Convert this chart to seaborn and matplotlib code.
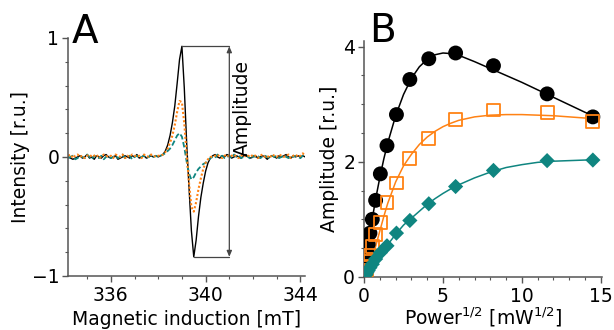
import numpy as np
import pandas as pd
import matplotlib
matplotlib.use("Agg")
import matplotlib.pyplot as plt
from matplotlib.ticker import MultipleLocator
import seaborn as sns

# ---------------- Panel A: EPR spectra (field step 0.1 mT, 334.2 - 344.2 mT)
field_start, field_step = 334.2, 0.1

black_spec = [
    0.00, -0.01, -0.02, -0.01, 0.00, 0.01, -0.01, 0.00, 0.02, -0.01,
    0.00, -0.02, 0.01, 0.00, -0.01, 0.01, 0.02, 0.00, -0.01, 0.00,
    0.01, -0.02, -0.01, 0.00, 0.01, 0.00, -0.01, 0.01, 0.00, 0.02,
    -0.01, 0.00, 0.01, -0.01, 0.00, 0.01, 0.00, 0.01,
    # signal 338.0 - 340.2
    0.00, 0.01, 0.02, 0.05, 0.10, 0.18, 0.29, 0.43, 0.62, 0.82,
    0.93, 0.58, 0.12, -0.26, -0.62, -0.84, -0.70, -0.50, -0.34, -0.22,
    -0.12, -0.05, -0.01,
    # 340.3 - 344.2
    0.01, 0.02, 0.00, -0.01, 0.01, 0.00, 0.02, 0.01, -0.01, 0.00,
    0.01, 0.00, -0.01, 0.01, 0.02, 0.00, -0.01, 0.00, 0.01, -0.01,
    0.00, 0.01, 0.00, -0.02, 0.00, 0.01, 0.00, -0.01, 0.01, 0.00,
    0.01, 0.02, 0.00, -0.01, 0.01, 0.00, 0.01, 0.00, 0.01, 0.00,
]
orange_spec = [
    0.01, 0.02, -0.01, 0.01, 0.02, 0.00, 0.01, -0.01, 0.01, 0.02,
    0.00, 0.01, 0.02, -0.01, 0.00, 0.02, 0.01, 0.00, 0.01, -0.01,
    0.02, 0.01, 0.00, 0.02, -0.01, 0.01, 0.00, 0.02, 0.01, 0.00,
    0.01, -0.01, 0.02, 0.01, 0.00, 0.02, 0.01, 0.00,
    0.01, 0.01, 0.02, 0.04, 0.07, 0.12, 0.18, 0.27, 0.38, 0.47,
    0.46, 0.28, 0.02, -0.22, -0.42, -0.46, -0.38, -0.27, -0.18, -0.10,
    -0.05, -0.02, 0.00,
    0.00, 0.01, 0.02, 0.00, -0.01, 0.01, 0.02, 0.00, 0.01, 0.02,
    0.00, -0.01, 0.01, 0.02, 0.00, 0.01, 0.00, 0.02, 0.01, -0.01,
    0.01, 0.02, 0.00, 0.01, -0.01, 0.02, 0.01, 0.00, 0.02, 0.01,
    0.00, 0.01, 0.02, -0.01, 0.01, 0.02, 0.00, 0.01, 0.03, 0.01,
]
teal_spec = [
    -0.01, 0.00, 0.01, -0.02, -0.01, 0.01, 0.00, -0.01, 0.02, 0.00,
    -0.02, 0.01, 0.00, -0.01, 0.01, -0.02, 0.00, 0.01, -0.01, 0.00,
    0.01, -0.01, 0.00, 0.02, -0.01, 0.00, 0.01, -0.02, 0.00, 0.01,
    -0.01, 0.00, 0.01, -0.01, 0.00, 0.02, 0.00, 0.01,
    0.00, 0.01, 0.02, 0.03, 0.05, 0.07, 0.10, 0.14, 0.18, 0.20,
    0.17, 0.08, -0.04, -0.14, -0.19, -0.17, -0.13, -0.10, -0.08, -0.06,
    -0.05, -0.03, -0.01,
    0.00, -0.01, 0.02, 0.00, 0.01, -0.01, 0.00, 0.01, -0.01, 0.02,
    0.00, 0.01, -0.01, 0.00, 0.01, 0.00, -0.02, 0.01, 0.00, 0.01,
    -0.01, 0.00, 0.01, 0.00, -0.01, 0.01, 0.00, 0.01, -0.01, 0.00,
    0.01, 0.00, -0.01, 0.01, 0.00, 0.01, 0.00, -0.01, 0.01, 0.00,
]
amp_peak = (339.0, 0.93)
amp_trough = (339.5, -0.84)
amp_x = 341.0

# ---------------- Panel B: saturation curves
power_sqrt = [14.5, 11.6, 8.2, 5.8, 4.1, 2.9, 2.05, 1.45, 1.03, 0.73, 0.52, 0.37, 0.26, 0.18, 0.13, 0.09]
amp_black = [2.78, 3.18, 3.67, 3.89, 3.79, 3.43, 2.82, 2.28, 1.79, 1.33, 1.00, 0.76, 0.57, 0.42, 0.30, 0.20]
amp_orange = [2.70, 2.86, 2.90, 2.73, 2.40, 2.05, 1.63, 1.29, 0.94, 0.74, 0.53, 0.38, 0.27, 0.19, 0.12, 0.08]
amp_teal = [2.03, 2.02, 1.85, 1.57, 1.27, 0.98, 0.76, 0.54, 0.42, 0.31, 0.22, 0.16, 0.11, 0.08, 0.05, 0.03]

fit_x = [0, 0.1, 0.2, 0.3, 0.5, 0.75, 1, 1.25, 1.5, 2, 2.5, 3, 3.5, 4, 4.5, 5, 5.5, 6, 7, 8, 9, 10, 11, 12, 13, 14, 14.5]
fit_black = [0, 0.2, 0.4, 0.6, 0.98, 1.38, 1.73, 2.05, 2.33, 2.8, 3.17, 3.45, 3.65, 3.78, 3.86, 3.89, 3.88, 3.85,
             3.74, 3.62, 3.5, 3.38, 3.25, 3.12, 2.99, 2.86, 2.8]
fit_orange = [0, 0.02, 0.06, 0.12, 0.3, 0.55, 0.8, 1.05, 1.28, 1.65, 1.93, 2.13, 2.3, 2.43, 2.53, 2.61, 2.67, 2.72,
              2.78, 2.81, 2.82, 2.82, 2.81, 2.8, 2.78, 2.76, 2.75]
fit_teal = [0, 0.03, 0.06, 0.1, 0.18, 0.28, 0.38, 0.47, 0.56, 0.74, 0.9, 1.02, 1.14, 1.26, 1.36, 1.45, 1.53, 1.6,
            1.72, 1.82, 1.9, 1.95, 1.99, 2.01, 2.02, 2.03, 2.03]

BLACK, ORANGE, TEAL = "black", "#ff8214", "#0f8580"
SPINE = "#555555"
FS = 13.5

sns.set_style("ticks")
plt.rcParams["font.family"] = ["DejaVu Sans"]
plt.rcParams.update({
    "text.color": "black", "axes.labelcolor": "black",
    "axes.edgecolor": SPINE, "axes.linewidth": 1.1,
    "xtick.color": SPINE, "ytick.color": SPINE,
    "xtick.labelcolor": "black", "ytick.labelcolor": "black",
    "xtick.major.size": 4, "ytick.major.size": 4,
    "xtick.minor.size": 2.2, "ytick.minor.size": 2.2,
    "xtick.major.width": 1.0, "ytick.major.width": 1.0,
    "xtick.minor.width": 0.8, "ytick.minor.width": 0.8,
    "xtick.major.pad": 3, "ytick.major.pad": 2.5,
})

fig = plt.figure(figsize=(6.14, 3.30), dpi=100)

# ---- Panel A
axA = fig.add_axes([0.111, 0.164, 0.386, 0.721])
field = field_start + field_step * np.arange(len(black_spec))
spec = pd.DataFrame({"field": field, "black": black_spec, "orange": orange_spec, "teal": teal_spec})
sns.lineplot(data=spec, x="field", y="black", ax=axA, color=BLACK, lw=1.0)
sns.lineplot(data=spec, x="field", y="teal", ax=axA, color=TEAL, lw=1.3)
axA.lines[-1].set_dashes((3, 1.5))
sns.lineplot(data=spec, x="field", y="orange", ax=axA, color=ORANGE, lw=1.5)
axA.lines[-1].set_dashes((1, 1))

axA.plot([amp_peak[0], amp_x], [amp_peak[1]] * 2, color="#444444", lw=0.9)
axA.plot([amp_trough[0], amp_x], [amp_trough[1]] * 2, color="#444444", lw=0.9)
axA.annotate("", xy=(amp_x, amp_peak[1]), xytext=(amp_x, amp_trough[1]),
             arrowprops=dict(arrowstyle="<|-|>,head_length=0.35,head_width=0.15",
                             color="#444444", lw=0.9, shrinkA=0, shrinkB=0))
axA.text(amp_x + 0.55, 0.41, "Amplitude", rotation=90, ha="center", va="center", fontsize=FS)

axA.set_xlim(334.2, 344.2)
axA.set_ylim(-1, 1)
axA.set_xticks([336, 340, 344])
axA.xaxis.set_minor_locator(MultipleLocator(1))
axA.set_yticks([-1, 0, 1])
axA.set_yticklabels(["\u22121", "0", "1"])
axA.yaxis.set_minor_locator(MultipleLocator(0.2))
axA.tick_params(labelsize=FS)
axA.set_xlabel("Magnetic induction [mT]", fontsize=FS, va="baseline")
axA.xaxis.set_label_coords(0.5, -0.206)
axA.set_ylabel("Intensity [r.u.]", fontsize=FS, labelpad=1)
sns.despine(ax=axA)
fig.text(72 / 614, 1 - 43 / 330, "A", fontsize=28, ha="left", va="baseline")

# ---- Panel B
axB = fig.add_axes([0.593, 0.161, 0.388, 0.715])
fits = pd.DataFrame({"x": fit_x, "black": fit_black, "orange": fit_orange, "teal": fit_teal})
pts = pd.DataFrame({"x": power_sqrt, "black": amp_black, "orange": amp_orange, "teal": amp_teal})
sns.lineplot(data=fits, x="x", y="black", ax=axB, color=BLACK, lw=1.1)
sns.lineplot(data=fits, x="x", y="orange", ax=axB, color=ORANGE, lw=1.1)
sns.lineplot(data=fits, x="x", y="teal", ax=axB, color=TEAL, lw=1.1)
sns.scatterplot(data=pts, x="x", y="black", ax=axB, color=BLACK, marker="o", s=115,
                edgecolor="none", zorder=3)
sns.scatterplot(data=pts, x="x", y="orange", ax=axB, marker="s", s=85, facecolor="none",
                edgecolor=ORANGE, linewidth=1.3, zorder=4)
sns.scatterplot(data=pts, x="x", y="teal", ax=axB, color=TEAL, marker="D", s=60,
                edgecolor="none", zorder=4)

axB.set_xlim(0, 15.1)
axB.set_ylim(0, 4.1)
axB.set_xticks([0, 5, 10, 15])
axB.xaxis.set_minor_locator(MultipleLocator(1))
axB.set_yticks([0, 2, 4])
axB.yaxis.set_minor_locator(MultipleLocator(0.5))
axB.tick_params(labelsize=FS)
axB.set_xlabel("Power$^{1/2}$ [mW$^{1/2}$]", fontsize=FS, va="baseline")
axB.xaxis.set_label_coords(0.5, -0.203)
axB.set_ylabel("Amplitude [r.u.]", fontsize=FS, labelpad=3)
sns.despine(ax=axB)
fig.text(369 / 614, 1 - 42 / 330, "B", fontsize=28, ha="left", va="baseline")

fig.savefig("out.png", dpi=100)
